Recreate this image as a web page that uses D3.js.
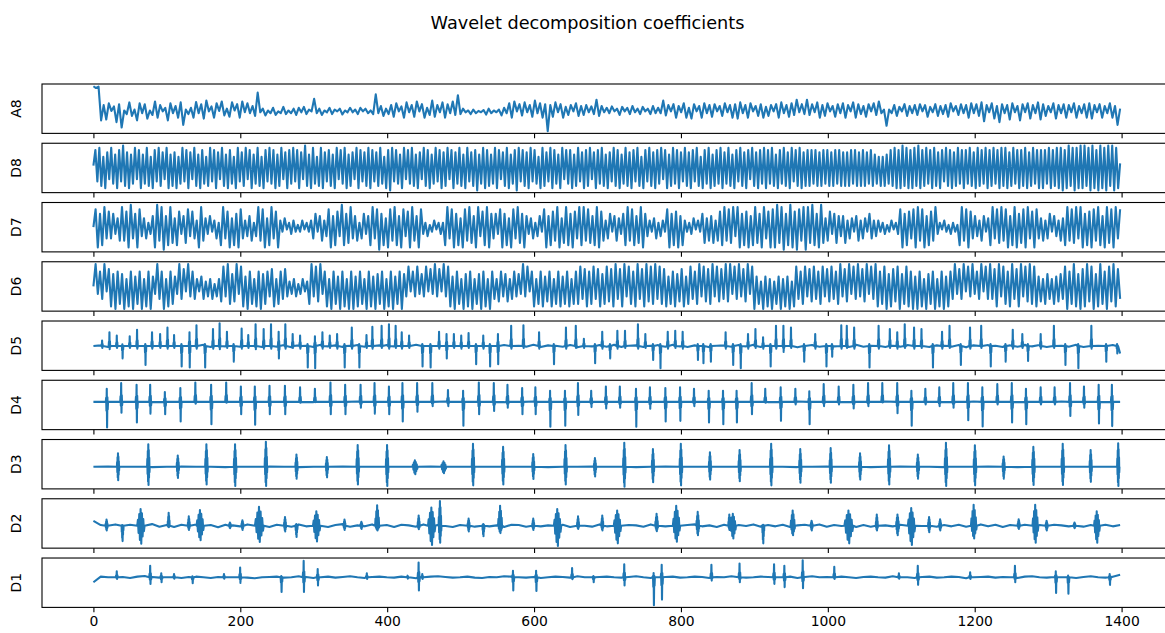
<!DOCTYPE html>
<html>
<head>
<meta charset="utf-8">
<script src="https://cdn.jsdelivr.net/npm/d3@7.9.0/dist/d3.min.js"></script>
<style>
  body { margin: 0; background: #fff; }
  svg { display: block; font-family: "DejaVu Sans", sans-serif; }
</style>
</head>
<body>
<svg width="1165" height="633"></svg>
<script>
// tick labels and panel names
const xTicks = [0, 200, 400, 600, 800, 1000, 1200, 1400];
const panelNames = ['A8', 'D8', 'D7', 'D6', 'D5', 'D4', 'D3', 'D2', 'D1'];
const lastSample = 1398;

// dense panels: successive peaks / troughs, evenly spaced
const a8Values = [
  100,96,99,24,58,26,62,45,55,20,60,8,46,38,64,34,48,24,62,40,
  60,28,46,36,66,30,58,44,52,24,62,40,56,30,64,14,48,38,52,30,
  65,40,60,28,68,44,55,30,62,45,66,35,50,32,64,46,60,30,66,42,
  62,40,56,34,86,42,50,35,46,40,52,36,44,40,54,38,46,40,50,36,
  52,42,54,38,48,44,72,40,50,36,46,42,52,38,48,44,50,37,46,42,
  52,42,48,38,52,44,50,40,46,38,82,40,56,34,50,38,58,32,62,44,
  55,30,64,42,58,32,66,44,60,30,52,36,68,32,58,42,64,30,60,40,
  66,36,80,38,50,42,46,38,48,40,45,42,47,37,50,40,46,42,48,35,
  52,40,62,30,66,44,60,35,64,42,58,32,68,40,62,30,60,0,58,32,
  64,42,60,30,54,36,58,44,62,34,56,36,58,42,55,38,70,34,56,42,
  52,40,55,44,50,36,54,44,52,38,56,42,50,38,54,44,50,38,56,40,
  52,40,68,35,58,44,60,30,56,42,62,30,52,28,60,44,56,30,62,40,
  58,32,60,44,56,34,62,42,58,30,60,28,64,40,58,30,62,44,56,34,
  60,30,54,34,58,44,60,30,64,40,58,32,62,36,70,42,60,38,70,36,
  60,42,64,30,58,34,62,44,56,32,60,40,62,30,58,44,64,30,60,38,
  56,32,60,44,62,36,66,40,48,12,48,40,58,34,54,44,60,34,56,40,
  58,36,60,44,58,32,54,42,60,34,56,38,58,32,62,44,56,36,60,40,
  58,30,62,40,60,34,64,22,58,42,62,28,56,20,60,40,58,26,62,42,
  56,24,60,42,62,28,58,40,64,26,60,34,56,42,62,28,58,40,60,30,
  58,42,62,30,56,40,60,30,62,28,58,42,60,30,56,40,62,30,56,14,
  50
];

const d8Values = [
  1,8,-6,9,-8,5,-9,7,-5,9,-7,6,-9,8,-6,10,-8,7,-9,6,
  -7,9,-5,8,-9,6,-7,9,-8,5,-9,8,-6,9,-8,7,-5,9,-9,6,
  -8,7,-9,5,-7,9,-6,8,-9,7,-5,9,-8,6,-9,8,-7,5,-8,9,
  -6,8,-9,7,-5,9,-8,6,-9,8,-7,5,-9,9,-6,7,-8,9,-5,8,
  -9,6,-7,9,-8,5,-9,8,-6,9,-7,8,-9,6,-8,9,-5,7,-9,8,
  -7,9,-6,8,-9,7,-5,10,-8,6,-9,9,-7,5,-8,9,-9,7,-6,8,
  -8,6,-9,9,-5,8,-7,9,-9,6,-8,7,-5,9,-9,8,-6,7,-8,9,
  -9,8,-6,7,-8,9,-7,5,-9,8,-10,9,-6,8,-7,6,-9,9,-5,8,
  -7,9,-8,6,-9,7,-5,9,-8,8,-9,6,-7,9,-6,8,-9,7,-8,9,
  -5,8,-9,7,-7,9,-8,6,-9,9,-6,7,-8,8,-10,6,-7,9,-9,8,
  -8,6,-7,9,-9,8,-5,7,-8,9,-9,6,-7,8,-10,9,-6,8,-8,7,
  -9,9,-6,8,-7,5,-9,9,-8,7,-6,9,-9,8,-7,6,-9,9,-5,8,
  -7,8,-9,6,-8,9,-6,7,-9,8,-8,9,-5,7,-9,8,-7,9,-8,6,
  -9,7,-6,9,-8,8,-9,6,-7,9,-8,7,-9,8,-6,9,-8,5,-9,8,
  -6,9,-8,7,-9,8,-7,9,-5,8,-9,6,-8,9,-7,8,-9,7,-6,9,
  -8,7,-9,8,-6,9,-8,5,-9,8,-7,9,-9,6,-8,8,-7,9,-9,7,
  -7,9,-8,6,-9,8,-6,9,-8,7,-9,8,-5,9,-8,7,-9,8,-7,9,
  -9,8,-7,9,-8,6,-9,8,-7,9,-8,7,-9,9,-6,8,-8,9,-9,7,
  -8,8,-8,8,-7,8,-8,7,-8,8,-7,8,-8,7,-8,8,-7,8,-8,7,
  -8,7,-8,8,-7,8,-8,7,-8,8,-8,7,-7,8,-8,6,-7,5,-8,5,
  -8,6,-7,8,-8,9,-9,8,-9,10,-8,9,-9,8,-9,9,-8,10,-9,8,
  -8,9,-7,8,-9,9,-8,7,-9,8,-6,9,-8,8,-9,7,-8,9,-7,8,
  -9,8,-7,9,-8,7,-9,9,-8,8,-7,9,-9,8,-8,9,-7,8,-9,9,
  -8,9,-9,7,-8,9,-7,8,-9,8,-8,9,-9,7,-8,9,-7,8,-9,8,
  -9,8,-7,9,-9,8,-8,9,-9,9,-10,8,-9,10,-8,9,-10,9,-9,10,
  -9,10,-8,9,-10,10,-9,8,-10,10,-9,9,-10,10,-8,10,-10,9,-9,2
];

const d7Values = [
  0,8,-9,6,-8,9,-5,7, -5,6,-3,4,-6, 9,-6,7,-9,10,-5,6,-9,8,-4, 4,-5,2,-3,5,
  -9,10,-6,9,-10,5,-8,9, -7,4,-8,7,-3,5,-7,8,-4,7,-5,3, -9,9,-6, 4,-3,5,-2,3,-5,2,
  -8,9,-5,7,-9,4,-8,6,-9,8, -5,3,-4,5,-6,2,-4, 9,-6,8,-9,4,-8,9,-5,7,-9,
  3,-2,4,-1,2,-3,3,-2,1,-2,3,-1,2,-2,3, -5,6,-2,5,-6,3,-4,
  8,-9,5,-8,7,-4,10,-8,6,-7,9,-5, 5,-6,2,-5,6,-3,5,
  -8,9,-5,8,-10,6,-8,4,-9,8,-6,9,-8,5,-9,8,-4,7,-9,9,-6,5,-9,8,
  -3,2,-4,1,-2,3,-1,2,-3,2,
  -8,9,-5,8,-9,6,-8,4,-9,8,-6,9,-7,5,-9,9,-4,7,-8,9,-9,6, -5,6,-3,
  8,-9,6,-8,4,-9,8,-5,9,-7,6,-9, 5,-3,4,-5,2,-4,5,-2,
  8,-9,5,-8,7,-6,9,-9,4,-7,9,-8,6,-9,7,-5,9,
  -8,9,-6,8,-7,5,-8,9,-9,7, -6,3,-5,6,-2,5,-6,4,-3,6,
  -8,9,-6,8,-8,5,-7,9,-9,6, -4,3,-2,4,-5,2,-4,3,-2,
  8,-9,6,-8,7,-9,5,-8, 3,-2,2,-3,4,-1,3,-2, 6,-7,4,-6,5,-7,3,-6,7,
  -8,9,-6,8,-7,9,-4,9,-9,6,-8,7,-9,5,-8,9,-7,6,-9,9,-5,7,-9,8,
  -9,10,-7,9,-10,6,-8,10,-9,7,-10,8,-6,9,-10,9,-7,10,-8,6,-9,10,
  -7,4,-6,7,-3,6,-7,5,-4,5,-7,3, -5,4,-2,5,-6,3,-5,4,-2,6,-5,3,-4,
  3,-2,2,-3,1,-2,3,-1,2,-3,
  8,-9,6,-8,7,-5,8,-9,9,-6,8,-9,5,-8,7,-6,9, -3,2,-1,3,-2,1,-3,2,-2,1,
  -8,9,-6,8,-9,7,-5, 5,-4,3,-6,5,-2,4,
  -8,9,-5,8,-7,9,-6,8,-9,5,-8,9,-9,6,-7,8,-9,9,-5,7,-9,8,
  -5,4,-6,3,-5,6,-2,5,-4,3,-6,4,
  -8,9,-6,8,-7,9,-5,9,-9,6,-8,7,-9,8,-6,9,-8,5,-9,9,-7,8,-9,9,-5,8
];

const d6Values = [
  0, 9,-3,6,-5,9,-2,7, -8,5,-9,6,-7,
  5,-9,3,-8,6,-9,4,-7,6,-9,3,-8,6,-9,4, -3,9,-5, 6,-9,3,-8,6,-7,4,
  -3,9,-5,7,-2,9,-4,6, -5,3,-2,4,-5,2,-4,3,-5,1,-4,3,
  -6,8,-4,9,-7,5,-6,9,-3,8, -8,4,-9,6,-7,3,-8,6,-9,5, -7,6,-4,7,-8,3,-7,6,-5,7,
  -4,2,-3,3,-4,1,-3,3,-2,2, -7,9,-4,8,-6,9,-3, 6,-8,3,-9,6,-7,4,-9,6,-8,3,-9,
  6,-9,4,-8,6,-7,3,-9,6,-8,4,-9,5,-7,6,-9,3,-8,6,-9,4,-7,6,-9,5,
  -4,8,-2,6,-4,8,-3,5,-4,8,-2,7, -3,9,-4,7,-2,9,-4,8,
  -8,4,-9,6,-7,3,-9,5,-8,6,-9,3,-7,5,-9,6,-8,3,-9,
  6,-5,3,-6,6,-4,5,-6,3,-5,6,-4,5, -3,9,-4,8,-2,
  6,-8,3,-7,6,-8,4,-6,6,-8,3,-7,6,-8,4,-7,6,-8,3,-7,6,
  -7,8,-5,7,-8,6,-7,8,-5,7,-8,5,-7,8,-6,7,-8,
  9,-5,7,-8,9,-4,8,-7,6,-8,9,-5,7,-8,9,-6,8,-7,9,-5,8,-7,
  7,-8,4,-7,6,-8,5,-6,7,-8,4,-7, 8,-5,6,-7,9,-4,8,-6,7,-7,9,-4,8,-6,7,-5,9,
  -6,9,-3,8,-5,9,-4,7,-6,9,-3,8, -9,4,-7,2,-9,4,-8,3,-9,2,-7,4,-9,3,-8,4,-9,2,-8,
  8,-5,6,-7,8,-4,7,-6,8,-5,6,-7,8,-4,7,-6,8,-5,6,-7,
  9,-4,7,-6,9,-3,8,-5,9,-4,7,-6,9,-3,8,-5,9,
  -8,6,-7,8,-9,5,-8,7,-6,8,-9,5,-7,8,-8,6,-9,
  4,-9,6,-8,3,-9,5,-7,6,-9,3,-8,6,-9,4,-8,6,
  -5,9,-3,7,-5,9,-2,8,-4,9,-3,6,-5,9,-2,8,-5,
  9,-5,7,-8,9,-4,8,-7,6,-8,9,-5,7,-8,9,-4,8,-6,9,-7,8,-8,
  4,-6,3,-7,5,-5,3,-7,4,-6,5,-5,
  8,-9,6,-7,9,-8,5,-9,7,-8,9,-6,8,-9,5,-8,9,-7,6,-9,8,-6,9,-8,7,-5
];

// spike panels: slow baseline plus events (sample, height above, depth below)
const d5Base = [
  0,2,-3,1,3,-2,4,-1,-3,2, 1,-4,3,2,-2,4,-3,1,-1,3, -2,2,4,-3,1,-2,3,-4,2,1,
  -3,4,-1,2,-3,1,3,-2,-4,2, 3,-1,2,-3,4,-2,1,-3,2,3, -2,1,-4,3,2,-1,3,-3,1,-2,
  4,-3,2,1,-2,3,-4,2,-1,3, -2,4,-3,1,2,-3,1,3,-2,4, -1,-3,2,3,-4,1,2,-2,3,-1,
  4,-3,1,-2,3,2,-4,1,3,-2, 2,-1,3,-3,4,-2,1,2,-3,1, -2,3,-1,4,-3,2,1,-2,3,-4,
  2,-1,3,1,-3,2,-2,4,-1,3, -3,2,1,-2,4,-3,2,1,-4,3, -23
];
const d5At = [12,22,32,39.6,49.6,59.6,70.8,80,91,101,110,120,131,140.5,152,163,172,182,191,202,
  211,221,232,242,252.4,261.5,271.5,281.6,291.7,301.8,312,322,332,342,352,362,372,380,392.6,402.6,
  411.7,420,430,448,459,470.8,481,491,501,511,521,531,540,551,569,585.7,607,627,643.6,657,
  668,683,693,703.5,713.6,724,741.6,751.7,762,772,782.2,792.4,802.5,823,830.5,840.6,861,871,881.3,891.5,
  901.6,912,922,929.6,939.7,950,967.7,983,998,1005.8,1018.5,1026,1036,1056.6,1069.3,1084.6,1094.7,1104.9,1117.6,1127.7,
  1143,1155.7,1165.9,1181,1193.8,1209,1221.7,1242,1252,1265,1272.5,1290,1308,1323.4,1341,1359,1379,1394];
const d5Up = [17,42,32,5,30,50,6,42,37,57,34,6,42,64,6,52,70,44,6,54,
  34,67,52,67,44,67,37,32,6,30,42,32,37,6,57,6,34,59,62,67,
  62,42,32,6,6,44,37,37,32,40,6,32,6,37,62,64,42,6,57,62,
  22,6,44,6,47,47,67,37,6,6,44,47,44,6,6,6,42,6,6,37,
  52,27,6,62,62,57,6,37,6,6,64,62,57,6,62,52,42,67,57,52,
  6,44,62,6,57,62,6,6,50,37,6,37,62,6,6,62,6,6];
const d5Down = [6,10,6,38,6,8,58,8,6,8,6,63,66,8,66,8,10,6,48,8,
  6,10,8,8,38,8,6,8,66,68,8,6,8,66,8,66,6,8,6,8,
  6,8,6,63,66,8,38,6,8,6,56,8,63,56,8,6,8,56,8,6,
  6,53,8,38,8,6,8,6,43,68,8,6,8,43,53,48,8,58,68,8,
  6,8,63,8,18,6,48,8,63,33,8,6,8,66,8,6,8,6,8,6,
  66,8,6,58,8,6,63,48,8,6,46,8,6,58,68,8,48,23];

const d4Base = [
  0,0,1,0,-1,0,0,1,0,0, -1,0,1,0,0,-1,0,0,1,0, 0,-1,0,0,1,0,0,0,-1,0,
  1,0,0,-1,0,0,1,0,0,0, -1,0,1,0,0,0,-1,0,1,0, 0,-1,0,0,1,0,0,0,-1,0,
  1,0,0,-1,0,0,1,0,0,-1, 0
];
const d4At = [18.4,38,59,77.5,97.5,118.6,139,160.5,181,201,220,240,261,281.6,301.8,323,343,364,383,402.6,
  421,441,461.7,483,503.6,525,545.4,564,584,602,622,642.3,660,678,698,717,739,758,779,799,
  818,838,857.5,876,896.5,915,936,956,975,994.6,1015,1035,1055,1074.4,1094.7,1114,1133,1152,1171,1191,
  1210.6,1231,1250.7,1270,1290,1309,1330,1349,1369,1387];
const d4Up = [40,57,52,52,30,42,59,52,59,47,47,49,49,44,40,59,52,52,57,47,
  57,57,57,36,34,59,57,52,42,44,34,34,57,34,47,47,40,44,42,44,
  40,34,34,34,57,40,44,40,32,54,47,52,57,57,57,34,40,44,57,57,
  44,54,57,40,44,44,57,47,52,52];
const d4Down = [78,33,63,36,38,60,6,68,3,38,70,38,38,3,1,38,38,18,36,38,
  60,30,13,13,73,38,28,18,38,38,76,73,40,16,20,18,76,21,60,58,
  13,63,68,63,38,3,58,8,68,13,8,20,13,2,35,73,8,13,18,56,
  75,8,63,68,8,8,43,18,66,74];

const d3Base = [
  0,1,0,0,-1,0,1,0,0,-1, 0,0,1,0,-1,0,0,1,0,0, -1,0,0,1,0,0,-1,0,1,0,
  0,-1,0,0,1,0,0,-1,0,1, 0,0,-1,0,1,0,0,0,-1,0, 1,0,0,-1,0,1,0,0,-1,0,
  0,1,0,-1,0,0,1,0,-1,0, 0
];
const d3At = [33.6,74.9,115,154,193,235,276.6,318,360,400,438,477,517,558,599,643,
  683,723,762,800,839.6,880,923,962.6,1004,1044,1083.5,1122.7,1161,1200.4,1239.5,1280,1320,1358,1395.5];
const d3Up = [42,70,35,70,70,78,38,30,68,68,20,17,72,62,40,68,
  27,75,55,72,45,52,72,55,58,42,67,38,75,67,32,62,72,52,73];
const d3Down = [42,57,35,55,60,60,37,33,55,60,23,20,58,55,38,55,
  30,62,48,58,40,45,58,50,50,40,55,37,60,58,37,57,57,47,60];
const d3Span = [1.6,1.8,1.6,1.8,1.8,1.8,1.6,1.6,1.8,1.8,3.5,3.5,1.8,1.8,1.6,1.8,
  1.6,1.8,1.6,1.8,1.6,1.6,1.8,1.6,1.6,1.6,1.8,1.6,1.8,1.8,1.6,1.8,1.8,1.6,1.6];

const d2Base = [
  15,2,-3,4,-2,3,-4,1,5,-3, 2,-4,3,-1,4,-3,2,-5,3,1, -2,4,-3,2,-4,3,0,-3,4,-2,
  3,-1,-4,2,5,-3,1,-2,4,-3, 2,-4,3,1,-3,4,-2,3,-1,-4, 2,3,-3,4,-2,1,-4,3,2,-3,
  4,-2,1,-3,3,-4,2,0,-3,4, -2,3,-4,2,1,-3,4,-1,-2,3, -3,2,4,-2,1,-4,3,-3,2,-1,
  4,-3,2,-2,3,-4,1,3,-2,4, -3,2,-1,3,-4,2,-3,4,1,-2, 3,-4,2,-1,4,-3,2,-2,3,-3,
  1,4,-2,3,-4,2,-1,3,-3,2, -4,3,1,-2,4,-3,2,-1,3,-2, 2
];
const d2At = [18,39.6,64.7,102.6,130,145.5,186,203,226,261,276.5,304,342,365,386.6,443,460.6,472,511,531,554,599,632,660,
  693,713.6,767,794,823,866,871,912,952.4,978,1028.6,1066.8,1095,1114,1138,1153,1198.9,1260,1282.7,1298,1336,1366.5];
const d2Up = [19,2,52,40,29,49,10,17,59,27,5,45,19,12,64,32,57,77,22,5,62,22,52,29,
  32,47,37,62,43,35,37,3,47,15,47,35,35,55,27,20,65,20,65,15,10,45];
const d2Down = [15,48,56,5,13,45,8,13,51,18,35,49,13,10,15,11,60,53,18,33,23,13,63,10,
  15,55,17,50,30,13,40,55,30,15,55,15,30,60,20,15,40,10,53,15,8,53];
const d2Span = [1.5,1.5,5,1.5,1.5,5,1.5,1.5,6,1.5,1.5,5,1.5,1.5,3,1.5,5,2,1.5,1.5,3,1.5,5,1.5,
  1.5,5,2,5,2,1.5,4,1.5,3,1.5,6,1.5,2,5,1.5,1.5,4,1.5,4,1.5,1.5,4];

const d1Base = [
  -15,2,0,3,1,-2,2,4,1,-1, 0,-3,-2,1,2,0,-2,1,3,0, 2,-1,-3,0,1,2,-1,0,3,1,
  -2,0,2,-1,1,3,0,-2,1,2, 0,-1,2,1,-3,0,2,3,1,-1, 0,2,-1,-2,1,0,3,2,0,-1,
  1,-2,0,2,1,-1,3,0,-2,1, 2,0,-1,1,3,0,-2,0,1,2, -1,0,2,1,-2,1,0,3,1,-1,
  0,2,1,-1,0,2,-2,1,3,0, 1,-1,2,0,-2,1,2,0,-1,3, 1,0,-2,1,2,-1,0,2,1,-3,
  0,1,2,-1,1,0,-2,2,3,0, -1,1,0,2,-2,1,3,0,-1,2, 8
];
const d1At = [32,77.5,92.6,110,135,178,200,256,286.5,305.6,372.5,428,443,448,571.5,603,652,
  681,723,763,774,841.7,880,927,941,966,1009,1097,1122.7,1194,1255,1310.6,1327.4,1384];
const d1Up = [18,35,12,10,3,10,30,4,50,25,12,5,45,10,20,20,28,
  4,40,13,38,38,42,40,35,52,32,12,35,15,35,18,5,10];
const d1Down = [5,20,15,4,18,4,17,45,45,25,5,4,40,5,40,42,6,
  15,25,85,68,10,15,20,30,33,5,4,23,5,15,48,50,23];

// relative shape of one event across its span (positive -> height, negative -> depth)
const spikeShape = [0, 0.3, -0.35, 1, -1, 0.35, -0.3, 0];
const burstShape = [0, 0.35, -0.4, 0.7, -0.8, 1, -1, 0.75, -0.6, 0.4, -0.3, 0];

function evenSeries(values) {
  const step = lastSample / (values.length - 1);
  return values.map((v, i) => [i * step, v]);
}

function spikeSeries(base, at, up, down, span, shape) {
  const spanOf = (k) => Array.isArray(span) ? span[k] : span;
  const step = lastSample / (base.length - 1);
  const pts = [];
  base.forEach((v, i) => {
    const t = i * step;
    if (!at.some((a, k) => Math.abs(t - a) <= spanOf(k) + 0.6)) pts.push([t, v]);
  });
  at.forEach((a, k) => {
    const w = spanOf(k);
    shape.forEach((s, j) => {
      const t = a - w + (2 * w * j) / (shape.length - 1);
      pts.push([t, s >= 0 ? s * up[k] : s * down[k]]);
    });
  });
  return pts.sort((p, q) => p[0] - q[0]);
}

const series = [
  evenSeries(a8Values),
  evenSeries(d8Values),
  evenSeries(d7Values),
  evenSeries(d6Values),
  spikeSeries(d5Base, d5At, d5Up, d5Down, 1.2, spikeShape),
  spikeSeries(d4Base, d4At, d4Up, d4Down, 1.5, spikeShape),
  spikeSeries(d3Base, d3At, d3Up, d3Down, d3Span, burstShape),
  spikeSeries(d2Base, d2At, d2Up, d2Down, d2Span, burstShape),
  spikeSeries(d1Base, d1At, d1Up, d1Down, 1.5, spikeShape)
];

const svg = d3.select('svg');
const x = d3.scaleLinear().domain([-70, 1470]).range([42, 1173]);
const plotTop = 84, plotBottom = 607.4;
const panelH = (plotBottom - plotTop) / (panelNames.length + (panelNames.length - 1) * 0.2);
const gapH = panelH * 0.2;

svg.append('text')
  .attr('x', 587.5).attr('y', 29)
  .attr('text-anchor', 'middle')
  .attr('font-size', '17.7px')
  .attr('fill', '#000')
  .text('Wavelet decomposition coefficients');

series.forEach((pts, i) => {
  const top = plotTop + i * (panelH + gapH);
  const g = svg.append('g').attr('transform', `translate(0,${top})`);
  const [lo, hi] = d3.extent(pts, d => d[1]);
  const pad = (hi - lo) * 0.05;
  const y = d3.scaleLinear().domain([lo - pad, hi + pad]).range([panelH, 0]);

  g.append('path')
    .datum(pts)
    .attr('fill', 'none')
    .attr('stroke', '#1f77b4')
    .attr('stroke-width', 2.1)
    .attr('stroke-linejoin', 'round')
    .attr('d', d3.line().x(d => x(d[0])).y(d => y(d[1])));

  const axis = d3.axisBottom(x)
    .tickValues(xTicks)
    .tickSize(4.9)
    .tickPadding(3.5)
    .tickSizeOuter(0)
    .tickFormat(i < series.length - 1 ? () => '' : d3.format('d'));
  const ax = g.append('g').attr('transform', `translate(0,${panelH})`).call(axis);
  ax.select('.domain').remove();
  ax.selectAll('line').attr('stroke', '#000').attr('stroke-width', 1.1);
  ax.selectAll('text').attr('font-size', '13.9px').attr('fill', '#000')
    .attr('font-family', '"DejaVu Sans", sans-serif');

  g.append('rect')
    .attr('x', x(-70)).attr('y', 0)
    .attr('width', x(1470) - x(-70)).attr('height', panelH)
    .attr('fill', 'none')
    .attr('stroke', '#000')
    .attr('stroke-width', 1.1);

  g.append('text')
    .attr('transform', `translate(21,${panelH / 2}) rotate(-90)`)
    .attr('text-anchor', 'middle')
    .attr('font-size', '13.9px')
    .attr('fill', '#000')
    .text(panelNames[i]);
});
</script>
</body>
</html>
